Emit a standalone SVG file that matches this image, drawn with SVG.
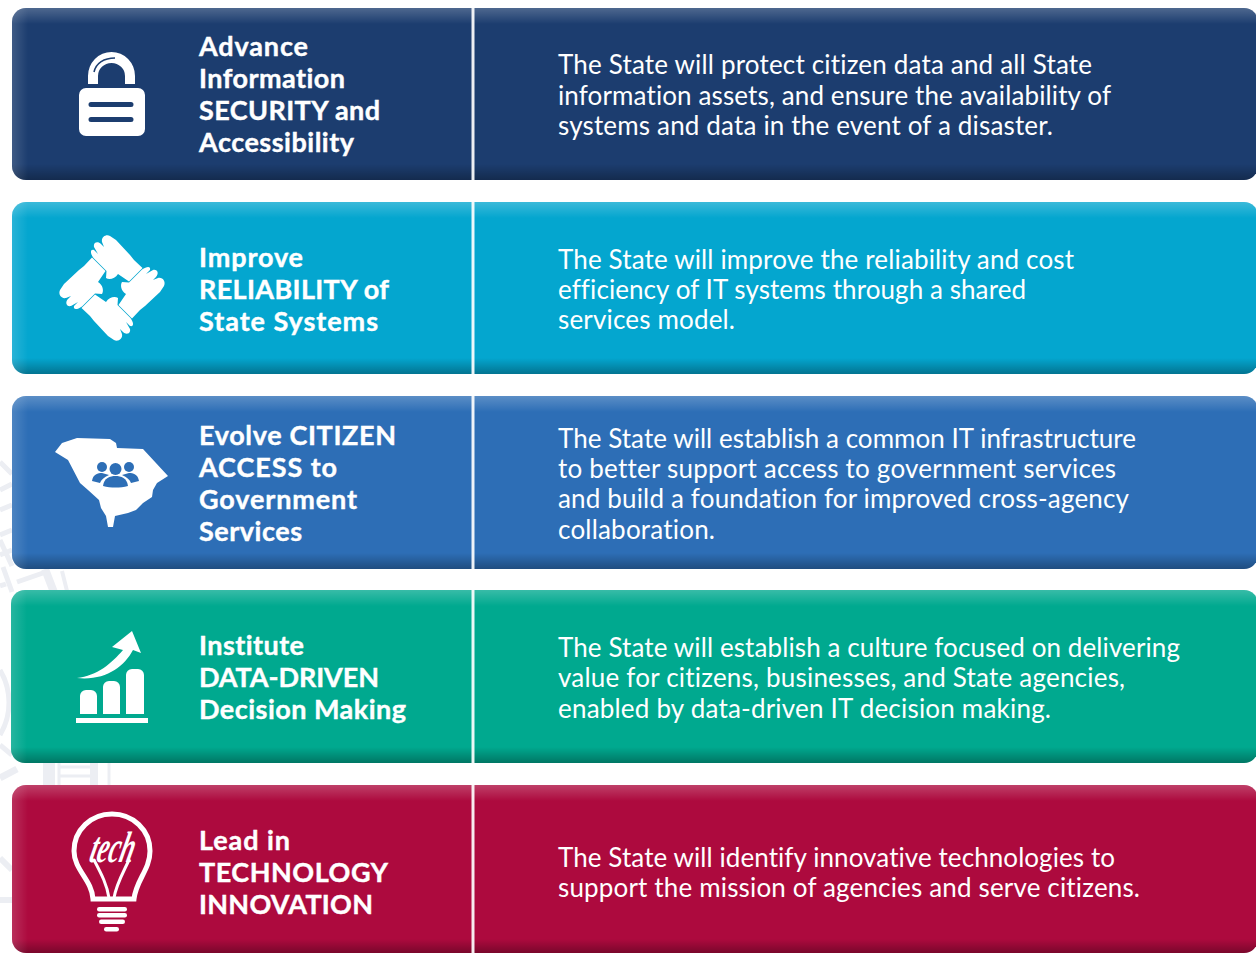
<svg xmlns="http://www.w3.org/2000/svg" width="1256" height="953" viewBox="0 0 1256 953">
<style>
.t{font-family:Lato,"Open Sans",sans-serif;font-weight:700;font-size:27px;fill:#fff;stroke:#fff;stroke-width:.4;font-variant-ligatures:none}
.d{font-family:Lato,"Open Sans",sans-serif;font-weight:400;font-size:26px;fill:#fff;font-variant-ligatures:none}
.sep{stroke:#fff;stroke-width:3;opacity:.92}
.ic{fill:#fff}
.wm{fill:none;stroke:#eceef3;stroke-width:5}
</style>
<defs>
<linearGradient id="top" x1="0" y1="0" x2="0" y2="1"><stop offset="0" stop-color="#fff" stop-opacity=".22"/><stop offset="1" stop-color="#fff" stop-opacity="0"/></linearGradient>
<linearGradient id="bot" x1="0" y1="0" x2="0" y2="1"><stop offset="0" stop-color="#000" stop-opacity="0"/><stop offset="1" stop-color="#000" stop-opacity=".3"/></linearGradient>
<linearGradient id="lft" x1="0" y1="0" x2="1" y2="0"><stop offset="0" stop-color="#fff" stop-opacity=".15"/><stop offset="1" stop-color="#fff" stop-opacity="0"/></linearGradient>
<clipPath id="c1"><rect x="12" y="8" width="1246" height="172" rx="14"/></clipPath>
<clipPath id="c2"><rect x="12" y="202" width="1246" height="172" rx="14"/></clipPath>
<clipPath id="c3"><rect x="12" y="396" width="1246" height="173" rx="14"/></clipPath>
<clipPath id="c4"><rect x="11" y="590" width="1247" height="173" rx="14"/></clipPath>
<clipPath id="c5"><rect x="12" y="785" width="1246" height="168" rx="14"/></clipPath>
<path id="hand" d="M-2,-52 L4,-48 L18,-33 L22,-28 L30.500,-20 L17,-6.500 L6,-14 C3,-9 -3,-8 -6,-10 L-5.500,-17 L-18.500,-30 C-22,-35 -22,-39 -18,-38 L-14,-34 L-18,-41 C-19,-46 -14,-47 -11,-44 L-8,-41 L-10,-46 C-11,-51 -6,-54 -2,-52Z"/>
</defs>
<rect width="1256" height="953" fill="#fff"/>
<g id="watermark" class="wm">
<path d="M0,462 L12,474 M0,490 L12,484 M0,510 L12,505 M0,535 L12,530 M0,555 L12,550 M0,540 L12,566"/>
<path stroke-width="5" d="M3,567 L12,592 M17,582 L43,573 M0,586 L6,584"/>
<path stroke-width="8" d="M45,569 L55,595"/>
<path stroke-width="4" d="M62,571 L68,595"/>
<path d="M0,670 C12,690 12,715 0,735"/>
<path d="M0,745 L12,755"/>
<path stroke-width="7" d="M0,778 L17,769"/>
<path stroke-width="12" d="M49,762 V786"/>
<path stroke-width="3" d="M59,762 V786 M60,767 H90 M60,776 H90"/>
<path stroke-width="8" d="M94,762 V786"/>
<path stroke-width="3" d="M109,762 V786"/>
<path stroke-width="6" d="M0,900 L12,900 M0,858 L12,870"/>
</g>
<g id="row1">
<rect x="12" y="8" width="1246" height="172" rx="14" fill="#1c3d6f"/>
<g clip-path="url(#c1)"><rect x="12" y="8" width="1246" height="16" fill="url(#top)"/><rect x="12" y="164" width="1246" height="16" fill="url(#bot)"/><rect x="12" y="8" width="16" height="172" fill="url(#lft)"/></g>
<line class="sep" x1="473" y1="8" x2="473" y2="180"/>
<g class="ic"><path d="M88,84 V76 a23.500,24 0 0 1 47,0 V84 H125 V76 a13.500,13 0 0 0 -27,0 V84Z"/>
<path fill-rule="evenodd" d="M86,88 H138 a7,7 0 0 1 7,7 V129 a7,7 0 0 1 -7,7 H86 a7,7 0 0 1 -7,-7 V95 a7,7 0 0 1 7,-7Z M91,102 a2.500,2.500 0 0 0 0,5 H131 a2.500,2.500 0 0 0 0,-5Z M91,117 a2.500,2.500 0 0 0 0,5 H131 a2.500,2.500 0 0 0 0,-5Z"/></g>
<path d="M94,72 C96,63 104,58 115,58" fill="none" stroke="#1c3d6f" stroke-width="1.500"/>
<text class="t" x="199" y="56" textLength="109">Advance</text><text class="t" x="199" y="88" textLength="146">Information</text><text class="t" x="199" y="120" textLength="181">SECURITY and</text><text class="t" x="199" y="152" textLength="155">Accessibility</text>
<text class="d" x="558" y="74" textLength="534">The State will protect citizen data and all State</text><text class="d" x="558" y="105" textLength="553">information assets, and ensure the availability of</text><text class="d" x="558" y="135" textLength="495">systems and data in the event of a disaster.</text>
</g>
<g id="row2">
<rect x="12" y="202" width="1246" height="172" rx="14" fill="#04a6cf"/>
<g clip-path="url(#c2)"><rect x="12" y="202" width="1246" height="16" fill="url(#top)"/><rect x="12" y="358" width="1246" height="16" fill="url(#bot)"/><rect x="12" y="202" width="16" height="172" fill="url(#lft)"/></g>
<line class="sep" x1="473" y1="202" x2="473" y2="374"/>
<g class="ic"><use href="#hand" transform="translate(112,288)"/><use href="#hand" transform="translate(112,288) rotate(90)"/><use href="#hand" transform="translate(112,288) rotate(180)"/><use href="#hand" transform="translate(112,288) rotate(270)"/></g>
<text class="t" x="199" y="267" textLength="104">Improve</text><text class="t" x="199" y="299" textLength="190">RELIABILITY of</text><text class="t" x="199" y="331" textLength="179">State Systems</text>
<text class="d" x="558" y="269" textLength="516">The State will improve the reliability and cost</text><text class="d" x="558" y="299" textLength="468">efficiency of IT systems through a shared</text><text class="d" x="558" y="329" textLength="177">services model.</text>
</g>
<g id="row3">
<rect x="12" y="396" width="1246" height="173" rx="14" fill="#2d6eb6"/>
<g clip-path="url(#c3)"><rect x="12" y="396" width="1246" height="16" fill="url(#top)"/><rect x="12" y="553" width="1246" height="16" fill="url(#bot)"/><rect x="12" y="396" width="16" height="173" fill="url(#lft)"/></g>
<line class="sep" x1="473" y1="396" x2="473" y2="569"/>
<path class="ic" d="M55,452 L62,443 L77,438 L110,439 L116,443 L117,448 L143,449 L168,476 L157,483 L153,490 L152,497 L143,503 L136,510 L128,513 L115,516 L113,527 L108,527 L106,516 L101,508 L99,500 L88,490 L80,483 L68,460Z"/>
<g fill="#2d6eb6"><circle cx="102" cy="467" r="5"/><circle cx="129" cy="467" r="5"/><path d="M92,481 C93,474 98,473 102,473 L109,475 C104,477 101,480 100,483Z M139,481 C138,474 133,473 129,473 L122,475 C127,477 130,480 131,483Z"/><circle cx="115.500" cy="469" r="6"/><path d="M103,486 C104,478 110,476 115.500,476 C121,476 127,478 128,486 C120,488 111,488 103,486Z"/></g>
<text class="t" x="199" y="445" textLength="197">Evolve CITIZEN</text><text class="t" x="199" y="477" textLength="138">ACCESS to</text><text class="t" x="199" y="509" textLength="158">Government</text><text class="t" x="199" y="541" textLength="103">Services</text>
<text class="d" x="558" y="448" textLength="578">The State will establish a common IT infrastructure</text><text class="d" x="558" y="478" textLength="558">to better support access to government services</text><text class="d" x="558" y="508" textLength="571">and build a foundation for improved cross-agency</text><text class="d" x="558" y="539" textLength="157">collaboration.</text>
</g>
<g id="row4">
<rect x="11" y="590" width="1247" height="173" rx="14" fill="#00a98f"/>
<g clip-path="url(#c4)"><rect x="11" y="590" width="1247" height="16" fill="url(#top)"/><rect x="11" y="747" width="1247" height="16" fill="url(#bot)"/><rect x="11" y="590" width="16" height="173" fill="url(#lft)"/></g>
<line class="sep" x1="473" y1="590" x2="473" y2="763"/>
<g class="ic"><path d="M77,678 C97,676 112,663 123,650 L112,647 L132,631 L141,653 L133,650 C124,667 105,681 77,678Z"/>
<path d="M80,714 V696 a6,6 0 0 1 6,-6 H91 a6,6 0 0 1 6,6 V714Z M103,714 V687 a6,6 0 0 1 6,-6 H114 a6,6 0 0 1 6,6 V714Z M126,714 V675 a6,6 0 0 1 6,-6 H138 a6,6 0 0 1 6,6 V714Z"/>
<rect x="76" y="718" width="72" height="5"/></g>
<text class="t" x="199" y="655" textLength="105">Institute</text><text class="t" x="199" y="687" textLength="180">DATA-DRIVEN</text><text class="t" x="199" y="719" textLength="207">Decision Making</text>
<text class="d" x="558" y="657" textLength="622">The State will establish a culture focused on delivering</text><text class="d" x="558" y="687" textLength="567">value for citizens, businesses, and State agencies,</text><text class="d" x="558" y="718" textLength="493">enabled by data-driven IT decision making.</text>
</g>
<g id="row5">
<rect x="12" y="785" width="1246" height="168" rx="14" fill="#ad0a3e"/>
<g clip-path="url(#c5)"><rect x="12" y="785" width="1246" height="16" fill="url(#top)"/><rect x="12" y="939" width="1246" height="14" fill="url(#bot)"/><rect x="12" y="785" width="16" height="168" fill="url(#lft)"/></g>
<line class="sep" x1="473" y1="785" x2="473" y2="953"/>
<g fill="none" stroke="#fff" stroke-linecap="round"><path stroke-width="5" d="M93,899 C92,880 74,870 74,851 C74,830 91,814 112,814 C133,814 150,830 150,851 C150,870 136,880 134,899 Z"/>
<path stroke-width="3" d="M109,898 C107,885 102,875 94,860 M114,898 C116,885 122,875 129,860"/></g>
<text transform="translate(88,862) skewX(-14)" x="0" y="0" font-family="Liberation Serif,serif" font-style="italic" font-weight="700" font-size="44" fill="#fff" textLength="44" lengthAdjust="spacingAndGlyphs">tech</text>
<g class="ic"><rect x="97" y="907" width="30" height="4.500" rx="2.200"/><rect x="97" y="913" width="30" height="4.500" rx="2.200"/><rect x="99" y="919.500" width="26" height="4.500" rx="2.200"/><rect x="104" y="927" width="15" height="4.500" rx="2.200"/></g>
<text class="t" x="199" y="850" textLength="91">Lead in</text><text class="t" x="199" y="882" textLength="189">TECHNOLOGY</text><text class="t" x="199" y="914" textLength="174">INNOVATION</text>
<text class="d" x="558" y="867" textLength="557">The State will identify innovative technologies to</text><text class="d" x="558" y="897" textLength="582">support the mission of agencies and serve citizens.</text>
</g>
</svg>
